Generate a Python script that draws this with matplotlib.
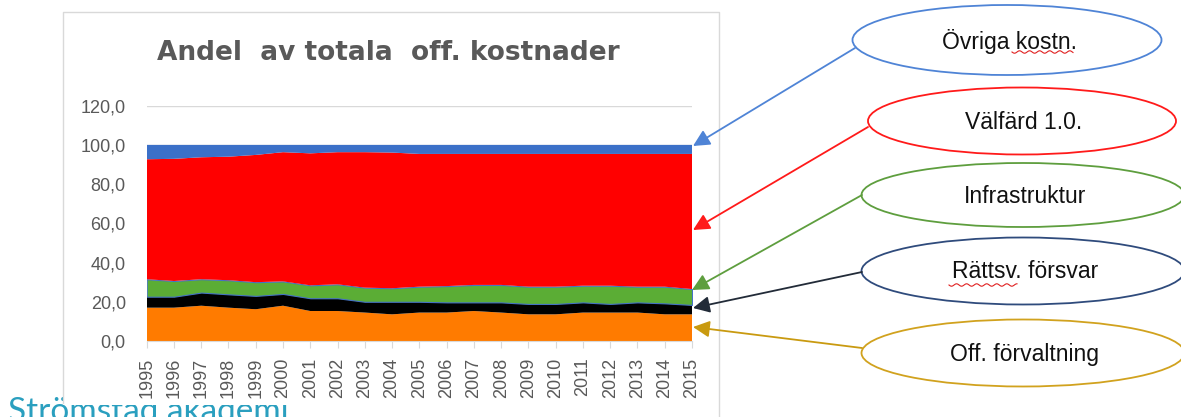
import numpy as np
import matplotlib
matplotlib.use("Agg")
import matplotlib.pyplot as plt
from matplotlib.patches import Ellipse, Rectangle

plt.rcParams["font.family"] = ["Liberation Sans", "DejaVu Sans"]

# andel av totala offentliga kostnader (%), läst från bilden
YEARS = list(range(1995, 2016))
OFF_FORVALTNING = [17.0, 17.0, 18.0, 17.0, 16.2, 18.0, 15.3, 15.3, 14.5, 13.6, 14.5,
                   14.5, 15.3, 14.5, 13.6, 13.6, 14.5, 14.5, 14.5, 13.6, 13.6]
RATTSV_FORSVAR = [5.6, 5.6, 6.7, 6.8, 6.8, 6.0, 6.5, 6.5, 5.5, 6.4, 5.5,
                  5.2, 4.4, 5.2, 5.3, 5.3, 5.2, 4.4, 5.2, 5.6, 4.8]
INFRASTRUKTUR = [8.9, 8.0, 6.8, 7.2, 7.0, 6.4, 6.6, 7.1, 7.2, 6.9, 7.7,
                 8.3, 8.9, 8.9, 8.8, 8.8, 8.5, 9.3, 8.0, 8.5, 8.1]
VALFARD = [61.2, 62.3, 62.2, 63.0, 64.9, 65.9, 67.3, 67.4, 69.1, 69.2, 67.7,
           67.4, 66.8, 66.8, 67.7, 67.7, 67.2, 67.2, 67.7, 67.7, 68.9]
OVRIGA = [7.3, 7.1, 6.3, 6.0, 5.1, 3.7, 4.3, 3.7, 3.7, 3.9, 4.6,
          4.6, 4.6, 4.6, 4.6, 4.6, 4.6, 4.6, 4.6, 4.6, 4.6]

AREA_COLOURS = ["#FF7B00", "#000000", "#5BAD35", "#FF0000", "#3B70C8"]
Y_TICKS = [0, 20, 40, 60, 80, 100, 120]

# label, ellipse centre/size (px), colour, arrow start, arrow tip (px)
CALLOUTS = [
    ("Övriga kostn.",    (1007, 40), 309, 70, "#4F84D6", (855, 48), (693, 146)),
    ("Välfärd 1.0.",     (1022, 121), 308, 67, "#FF1A1A", (868, 127), (693, 230)),
    ("Infrastruktur",    (1023, 195), 323, 64, "#5E9E3E", (862, 195), (692, 290)),
    ("Rättsv. försvar",  (1023, 271), 323, 67, "#2F4B7C", (862, 272), (693, 308)),
    ("Off. förvaltning", (1023, 353), 323, 67, "#D1A21E", (862, 348), (693, 327)),
]
ARROW_COLOURS = ["#4F84D6", "#FF1A1A", "#5E9E3E", "#222B38", "#C99A10"]

W, H = 1181, 417
fig = plt.figure(figsize=(W / 100, H / 100), dpi=100)

# overlay in pixel coordinates (origin top left)
ov = fig.add_axes([0, 0, 1, 1], zorder=0)
ov.set_xlim(0, W)
ov.set_ylim(H, 0)
ov.axis("off")

ov.text(8, 421, "Strömstad akademi", fontsize=24, color="#2A9FBF",
        family=["Lato", "DejaVu Sans"], ha="left", va="baseline", zorder=1)
ov.add_patch(Rectangle((63, 0), 657, 405, facecolor="white", edgecolor="none", zorder=2))
ov.plot([63, 63, 719, 719], [403, 12, 12, H], color="#D9D9D9", lw=1.0, zorder=3)

ov.text(388, 53, "Andel  av totala  off. kostnader", fontsize=19, fontweight="bold",
        color="#595959", family=["DejaVu Sans"], ha="center", va="center", zorder=4)

for (label, c, ew, eh, col, start, tip), acol in zip(CALLOUTS, ARROW_COLOURS):
    ov.add_patch(Ellipse(c, ew, eh, facecolor="none", edgecolor=col, lw=1.3, zorder=4))
    ov.text(c[0] + 2, c[1] + 1, label, fontsize=16.5, color="#111111",
            ha="center", va="center", zorder=5)
    ov.annotate("", xy=tip, xytext=start,
                arrowprops=dict(arrowstyle="-|>,head_length=1.0,head_width=0.5",
                                color=acol, lw=1.3, shrinkA=0, shrinkB=0), zorder=5)

# spell-check squiggles
for x0, x1, yy in [(1012, 1073, 52), (949, 1017, 285)]:
    xs = np.linspace(x0, x1, 120)
    ov.plot(xs, yy + 1.2 * np.sin((xs - x0) / 1.6), color="#E02020", lw=0.8, zorder=5)

# main chart
ax = fig.add_axes([146.7 / W, (H - 341) / H, (692 - 146.7) / W, (341 - 105.7) / H], zorder=5)
ax.patch.set_alpha(0)
polys = ax.stackplot(YEARS, OFF_FORVALTNING, RATTSV_FORSVAR, INFRASTRUKTUR, VALFARD, OVRIGA,
                     colors=AREA_COLOURS, lw=0, zorder=2)
polys[2].set_edgecolor("#4472C4")
polys[2].set_linewidth(0.8)

ax.set_xlim(YEARS[0], YEARS[-1])
ax.set_ylim(0, 120)
ax.set_yticks(Y_TICKS)
ax.set_yticklabels([f"{v:.1f}".replace(".", ",") for v in Y_TICKS])
ax.set_xticks(YEARS)
ax.set_xticklabels([str(y) for y in YEARS], rotation=90)
ax.grid(axis="y", color="#D9D9D9", lw=1.0, zorder=0)
ax.set_axisbelow(True)
for s in ["left", "top", "right"]:
    ax.spines[s].set_visible(False)
ax.spines["bottom"].set_color("#D9D9D9")
ax.tick_params(axis="y", length=0, pad=15, labelsize=13, labelcolor="#595959")
ax.tick_params(axis="x", length=5, color="#D9D9D9", pad=7, labelsize=13, labelcolor="#595959")

fig.savefig("out.png", dpi=100)
